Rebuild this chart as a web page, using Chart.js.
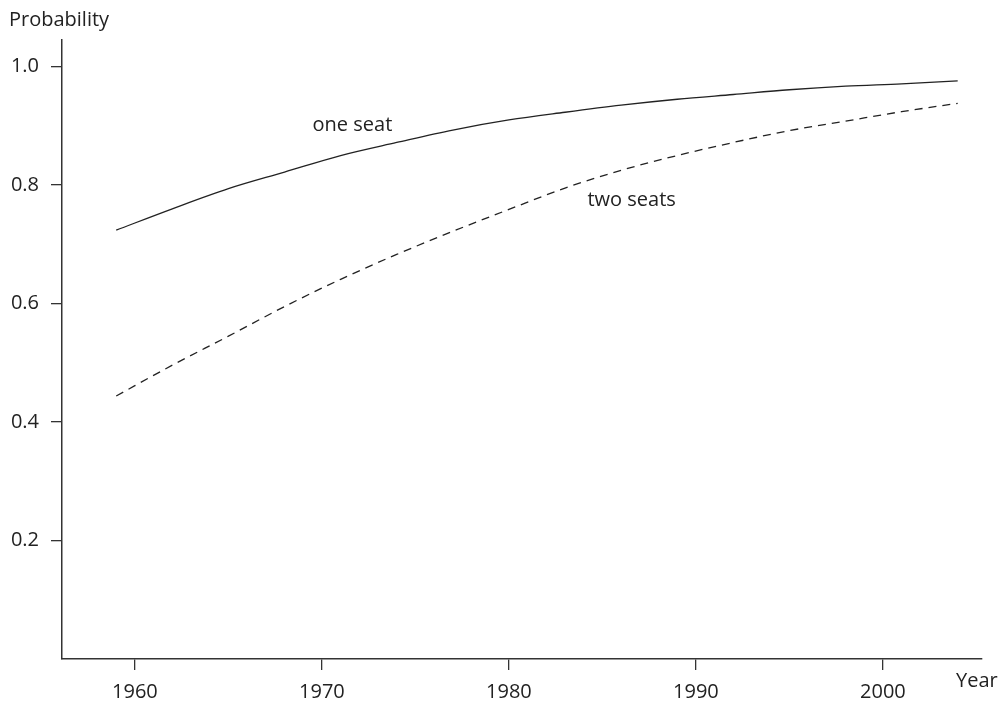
<!DOCTYPE html>
<html>
<head>
<meta charset="utf-8">
<script src="https://cdn.jsdelivr.net/npm/chart.js@4/dist/chart.umd.min.js"></script>
<style>
  html, body { margin: 0; padding: 0; background: #fff; }
  canvas { display: block; }
</style>
</head>
<body>
<canvas id="chart" width="1002" height="701"></canvas>
<script>
// values
const years = [1959, 1962, 1965, 1968, 1971, 1974, 1977, 1980, 1983, 1986, 1989, 1992, 1995, 1998, 2001, 2004];
const oneSeat = [0.724, 0.760, 0.794, 0.822, 0.850, 0.872, 0.893, 0.910, 0.923, 0.935, 0.945, 0.953, 0.961, 0.967, 0.971, 0.976];
const twoSeats = [0.444, 0.496, 0.545, 0.595, 0.641, 0.683, 0.722, 0.759, 0.795, 0.825, 0.850, 0.872, 0.892, 0.908, 0.924, 0.938];
const xTicks = [1960, 1970, 1980, 1990, 2000];
const yTicks = [0.2, 0.4, 0.6, 0.8, 1.0];

const FONT = '"Open Sans", "Noto Sans", sans-serif';
const INK = '#222';

const toPoints = (vals) => vals.map((v, i) => ({ x: years[i], y: v }));

// curve labels and axis titles
const labelPlugin = {
  id: 'labels',
  afterDraw(chart) {
    const { ctx, scales } = chart;
    const x = scales.x, y = scales.y;
    ctx.save();
    ctx.fillStyle = INK;
    ctx.font = '20px ' + FONT;
    ctx.textBaseline = 'middle';
    ctx.textAlign = 'left';
    ctx.fillText('one seat', x.getPixelForValue(1969.5), y.getPixelForValue(0.901));
    ctx.fillText('two seats', x.getPixelForValue(1984.2), y.getPixelForValue(0.775));
    ctx.fillText('Probability', 9, 20);
    ctx.fillText('Year', 956, 681);
    ctx.restore();
  }
};

new Chart(document.getElementById('chart'), {
  type: 'line',
  data: {
    datasets: [
      {
        label: 'one seat',
        data: toPoints(oneSeat),
        borderColor: INK,
        borderWidth: 1.3,
        pointRadius: 0,
        cubicInterpolationMode: 'monotone',
        fill: false
      },
      {
        label: 'two seats',
        data: toPoints(twoSeats),
        borderColor: INK,
        borderWidth: 1.3,
        borderDash: [8, 6],
        pointRadius: 0,
        cubicInterpolationMode: 'monotone',
        fill: false
      }
    ]
  },
  options: {
    responsive: false,
    animation: false,
    layout: { padding: { left: 0, right: 20, top: 40, bottom: 0 } },
    plugins: { legend: { display: false }, tooltip: { enabled: false } },
    scales: {
      x: {
        type: 'linear',
        min: 1956.1,
        max: 2005.3,
        afterBuildTicks: (s) => { s.ticks = xTicks.map(v => ({ value: v })); },
        afterFit: (s) => { s.height = 42; },
        ticks: {
          color: INK,
          font: { family: FONT, size: 20 },
          padding: 10,
          maxRotation: 0,
          autoSkip: false,
          callback: (v) => String(v)
        },
        grid: { drawOnChartArea: false, drawTicks: true, tickLength: 11, color: '#333', lineWidth: 1.3 },
        border: { display: true, color: '#333', width: 1.5 }
      },
      y: {
        type: 'linear',
        min: 0,
        max: 1.045,
        afterBuildTicks: (s) => { s.ticks = yTicks.map(v => ({ value: v })); },
        afterFit: (s) => { s.width = 62; },
        ticks: {
          color: INK,
          font: { family: FONT, size: 20 },
          padding: 12,
          autoSkip: false,
          callback: (v) => v.toFixed(1)
        },
        grid: { drawOnChartArea: false, drawTicks: true, tickLength: 11, color: '#333', lineWidth: 1.3 },
        border: { display: true, color: '#333', width: 1.5 }
      }
    }
  },
  plugins: [labelPlugin]
});
</script>
</body>
</html>
